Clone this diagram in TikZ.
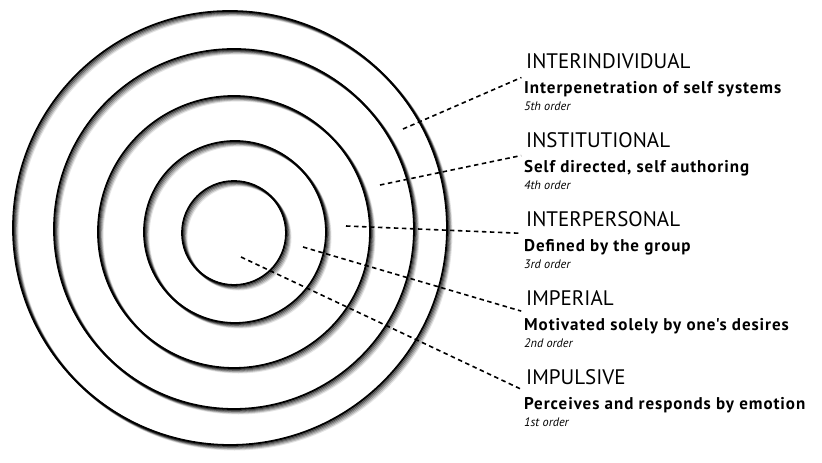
\documentclass[tikz,border=0pt]{standalone}
\usepackage{fontspec}
\setmainfont{PT Sans}
\newfontfamily\bodyfont{PT Sans}[LetterSpace=5.5]
\begin{document}
\begin{tikzpicture}[x=1pt,y=-1pt,
  ring/.style={draw=black, line width=1.8pt},
  halo/.style={draw=black, line width=2pt},
  lead/.style={draw=black, line width=1.6pt, dash pattern=on 4.5pt off 3.5pt, shorten >=5pt},
  head/.style={anchor=base west, inner sep=0pt, font=\fontsize{21}{21}\selectfont},
  body/.style={anchor=base west, inner sep=0pt, font=\bodyfont\bfseries\fontsize{17}{17}\selectfont},
  ord/.style={anchor=base west, inner sep=0pt, font=\itshape\fontsize{12.3}{12.3}\selectfont},
]
\useasboundingbox[fill=white] (0,0) rectangle (822,463);

% ring centres
\coordinate (o1) at (230,228);
\coordinate (o2) at (234,229);
\coordinate (o3) at (234,232);
\coordinate (o4) at (235,232);
\coordinate (o5) at (234,233);

% soft shadows toward lower right, fading outward
\foreach \c/\r in {o1/217,o2/180,o3/136,o4/91,o5/52}{
  \foreach \k/\op in {1/0.55,2/0.4,3/0.28,4/0.18,5/0.1}{
    \draw[halo, opacity=\op] ([shift={(\k*0.9,\k*0.9)}]\c) circle (\r);
  }
}
% rings
\draw[ring] (o1) circle (217);
\draw[ring] (o2) circle (180);
\draw[ring] (o3) circle (136);
\draw[ring] (o4) circle (91);
\draw[ring] (o5) circle (52);

% labels
\node[head] (h1) at (526,68)  {INTERINDIVIDUAL};
\node[body] (b1) at (524,93)  {Interpenetration of self systems};
\node[ord]  (r1) at (524,110) {5th order};

\node[head] (h2) at (526,147) {INSTITUTIONAL};
\node[body] (b2) at (524,172) {Self directed, self authoring};
\node[ord]  (r2) at (524,189) {4th order};

\node[head] (h3) at (526,226) {INTERPERSONAL};
\node[body] (b3) at (524,251) {Defined by the group};
\node[ord]  (r3) at (524,268) {3rd order};

\node[head] (h4) at (526,305) {IMPERIAL};
\node[body] (b4) at (524,330) {Motivated solely by one's desires};
\node[ord]  (r4) at (524,347) {2nd order};

\node[head] (h5) at (526,384) {IMPULSIVE};
\node[body] (b5) at (524,409) {Perceives and responds by emotion};
\node[ord]  (r5) at (524,426) {1st order};

% leader start points
\coordinate (s1) at (403,129);
\coordinate (s2) at (380,185);
\coordinate (s3) at (346,226);
\coordinate (s4) at (303,247);
\coordinate (s5) at (241,257);

\draw[lead] (s1) -- ([yshift=-7.5pt]h1.base west);
\draw[lead] (s2) -- ([yshift=-7.5pt]h2.base west);
\draw[lead] (s3) -- ([yshift=-7.5pt]h3.base west);
\draw[lead] (s4) -- ([yshift=-7.5pt]h4.base west);
\draw[lead] (s5) -- ([yshift=-7.5pt]h5.base west);
\end{tikzpicture}
\end{document}
